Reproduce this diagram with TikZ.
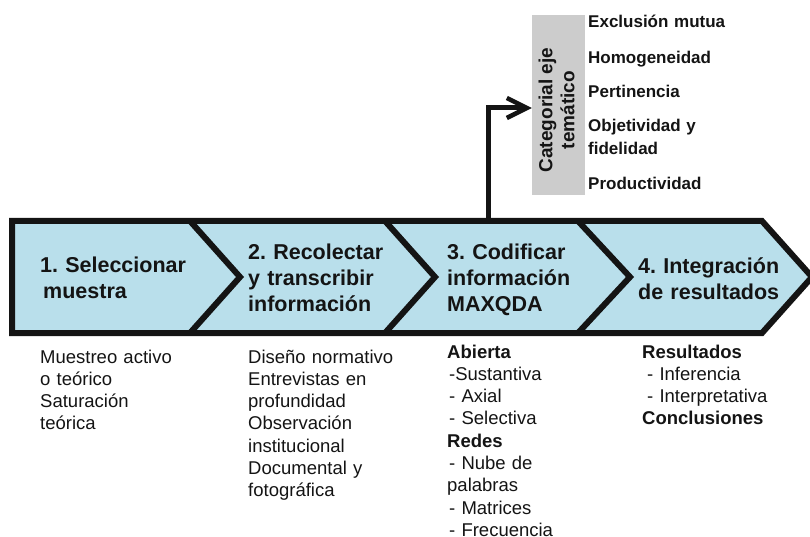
\documentclass[tikz,border=0pt]{standalone}
\usepackage{fontspec}
\setmainfont{Liberation Sans}
\usetikzlibrary{arrows.meta}
\frenchspacing
\definecolor{stepblue}{RGB}{185,223,235}
\definecolor{catgray}{RGB}{204,204,204}
\definecolor{inkblack}{RGB}{20,20,20}
\tikzset{
  bandline/.style={draw=inkblack, line width=6pt, line join=miter},
  steptext/.style={anchor=base west, inner sep=0pt, text width=190pt, align=left,
    font=\bfseries\fontsize{21.5}{26}\selectfont, text=inkblack},
  listtext/.style={anchor=base west, inner sep=0pt, text width=180pt, align=left,
    font=\fontsize{18.5}{22.3}\selectfont, text=inkblack},
  crittext/.style={anchor=base west, inner sep=0pt, text width=200pt, align=left,
    font=\bfseries\fontsize{17}{23}\selectfont, text=inkblack},
  catbox/.style={fill=catgray, draw=none, minimum width=53pt, minimum height=180pt, inner sep=0pt},
  cattext/.style={rotate=90, inner sep=0pt, align=center,
    font=\bfseries\fontsize{19}{22}\selectfont, text=inkblack},
  conn/.style={draw=inkblack, line width=5pt, line join=miter,
    -{Straight Barb[length=20pt, width=20pt, line width=4.5pt]}}
}
\begin{document}
\begin{tikzpicture}[x=1pt, y=-1pt]
\useasboundingbox (0,0) rectangle (810,537);

% process band of four chevrons
\begin{scope}
  \clip (0,0) rectangle (810,537);
  \draw[bandline, fill=stepblue] (12,221) -- (762,221) -- (812,277) -- (762,333) -- (12,333) -- cycle;
  \draw[bandline] (190,221) -- (240,277) -- (190,333);
  \draw[bandline] (385,221) -- (435,277) -- (385,333);
  \draw[bandline] (578,221) -- (630,277) -- (578,333);
\end{scope}

% step titles
\node[steptext] (s1) at (40,272) {1. Seleccionar\\\hspace*{3pt}muestra};
\node[steptext] (s2) at (248,259) {2. Recolectar\\y transcribir\\información};
\node[steptext] (s3) at (447,259) {3. Codificar\\información\\MAXQDA};
\node[steptext] (s4) at (638,273) {4. Integración\\de resultados};

% category box and its criteria
\node[catbox] (cat) at (558.5,105) {};
\node[cattext] (catlabel) at ([xshift=-2pt, yshift=-5pt]cat.center) {Categorial eje\\temático};
\coordinate (tap) at (488,221);
\draw[conn] (tap) |- ([yshift=-3pt]cat.west);

\node[crittext] (c1) at (588,28) {Exclusión mutua};
\node[crittext] (c2) at (588,64) {Homogeneidad};
\node[crittext] (c3) at (588,98) {Pertinencia};
\node[crittext] (c4) at (588,132) {Objetividad y\\fidelidad};
\node[crittext] (c5) at (588,190) {Productividad};

% details under each step
\node[listtext] (d1) at (40,363) {Muestreo activo\\o teórico\\Saturación\\teórica};
\node[listtext] (d2) at (248,363) {Diseño normativo\\Entrevistas en\\profundidad\\Observación\\institucional\\Documental y\\fotográfica};
\node[listtext] (d3) at (447,358) {\textbf{Abierta}\\\hspace*{2pt}-Sustantiva\\\hspace*{2pt}- Axial\\\hspace*{2pt}- Selectiva\\\textbf{Redes}\\\hspace*{2pt}- Nube de\\palabras\\\hspace*{2pt}- Matrices\\\hspace*{2pt}- Frecuencia};
\node[listtext] (d4) at (642,358) {\textbf{Resultados}\\\hspace*{5pt}- Inferencia\\\hspace*{5pt}- Interpretativa\\\textbf{Conclusiones}};
\end{tikzpicture}
\end{document}
